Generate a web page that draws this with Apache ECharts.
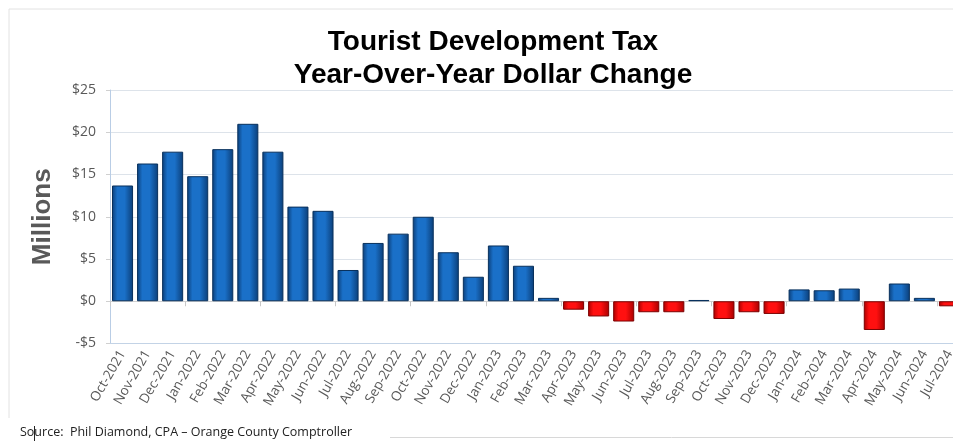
<!DOCTYPE html>
<html>
<head>
<meta charset="utf-8">
<script src="https://cdn.jsdelivr.net/npm/echarts@6/dist/echarts.min.js"></script>
<style>
html,body{margin:0;padding:0;background:#fff;}
#chart{width:953px;height:441px;}
</style>
</head>
<body>
<div id="chart"></div>
<script>
const categories = ['Oct-2021','Nov-2021','Dec-2021','Jan-2022','Feb-2022','Mar-2022','Apr-2022','May-2022','Jun-2022','Jul-2022','Aug-2022','Sep-2022','Oct-2022','Nov-2022','Dec-2022','Jan-2023','Feb-2023','Mar-2023','Apr-2023','May-2023','Jun-2023','Jul-2023','Aug-2023','Sep-2023','Oct-2023','Nov-2023','Dec-2023','Jan-2024','Feb-2024','Mar-2024','Apr-2024','May-2024','Jun-2024','Jul-2024'];
const changeMillions = [13.7,16.3,17.7,14.8,18.0,21.0,17.7,11.2,10.7,3.7,6.9,8.0,10.0,5.8,2.9,6.6,4.2,0.4,-1.0,-1.8,-2.4,-1.3,-1.3,0.15,-2.1,-1.3,-1.5,1.4,1.3,1.5,-3.4,2.1,0.4,-0.6];
const yTicks = [-5,0,5,10,15,20,25];

const chart = echarts.init(document.getElementById('chart'), null, {renderer:'canvas'});

function grad(edge, mid){
  return new echarts.graphic.LinearGradient(0,0,1,0,[
    {offset:0,color:edge},{offset:0.25,color:mid},{offset:0.6,color:mid},{offset:1,color:edge}
  ]);
}
const blue = grad('#0b3e78','#1a70c8');
const red = grad('#a80000','#ff1010');

const barData = changeMillions.map(v => ({
  value: v,
  itemStyle: {color: v >= 0 ? blue : red, borderColor: v >= 0 ? '#08305c' : '#7a0000', borderWidth: 1}
}));

const option = {
  animation:false,
  backgroundColor:'#fff',
  title:{
    text:'Tourist Development Tax\nYear-Over-Year Dollar Change',
    left:488, top:21, textAlign:'center',
    textStyle:{fontFamily:'Liberation Sans, Arial, sans-serif',fontWeight:'bold',fontSize:28,color:'#000',lineHeight:33}
  },
  grid:{left:110, width:852, top:90, height:253.5, outerBoundsMode:'none', containLabel:false},
  xAxis:[{
    type:'category', data:categories, position:'bottom',
    axisLine:{show:true,onZero:false,lineStyle:{color:'#c3d3e6'}},
    axisTick:{show:false},
    axisLabel:{rotate:60,fontSize:13.5,color:'#595959',fontFamily:'Open Sans, sans-serif',margin:8,interval:0}
  },{
    type:'category', data:categories, position:'bottom',
    axisLine:{show:true,onZero:true,lineStyle:{color:'#d0d0d0'}},
    axisTick:{show:true,length:5,lineStyle:{color:'#c8c8c8'}},
    axisLabel:{show:false}
  }],
  yAxis:{
    type:'value', min:yTicks[0], max:yTicks[yTicks.length-1], interval:5,
    name:'Millions', nameLocation:'middle', nameGap:54, nameRotate:90,
    nameTextStyle:{fontFamily:'Liberation Sans, Arial, sans-serif',fontWeight:'bold',fontSize:26,color:'#595959'},
    axisLine:{show:true,lineStyle:{color:'#b9cde5'}},
    axisTick:{show:true,length:4,lineStyle:{color:'#d0d0d0'}},
    splitLine:{lineStyle:{color:'#dde3ea'}},
    axisLabel:{fontSize:14,color:'#595959',fontFamily:'Open Sans, sans-serif',margin:14,
      formatter:v => v<0 ? '-$'+Math.abs(v) : '$'+v}
  },
  series:[{
    type:'bar', data:barData, xAxisIndex:0, barCategoryGap:'16%'
  }],
  graphic:[
    {type:'line',shape:{x1:9,y1:9,x2:953,y2:9},style:{stroke:'#e2e2e2',lineWidth:1},silent:true},
    {type:'line',shape:{x1:9,y1:9,x2:9,y2:418},style:{stroke:'#e2e2e2',lineWidth:1},silent:true},
    {type:'line',shape:{x1:390,y1:437.5,x2:953,y2:437.5},style:{stroke:'#d8d8d8',lineWidth:1},silent:true},
    {type:'text',left:20,top:426,style:{text:'Source:  Phil Diamond, CPA \u2013 Orange County Comptroller',font:'12.5px "Open Sans", sans-serif',fill:'#222'}},
    {type:'line',shape:{x1:34.5,y1:426,x2:34.5,y2:441},style:{stroke:'#222',lineWidth:1},silent:true}
  ]
};
chart.setOption(option);
</script>
</body>
</html>
